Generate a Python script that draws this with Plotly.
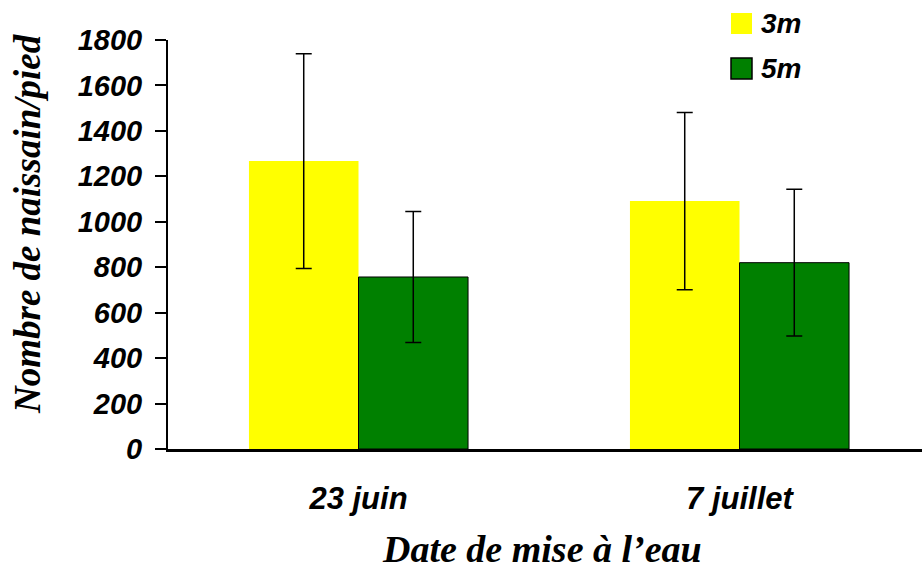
import plotly.graph_objects as go

# Spat settlement per collector by deployment date and depth
dates = ["23 juin", "7 juillet"]
series_names = ["3m", "5m"]
values_3m = [1267, 1091]
errors_3m = [473, 390]
values_5m = [757, 820]
errors_5m = [288, 323]
y_ticks = [0, 200, 400, 600, 800, 1000, 1200, 1400, 1600, 1800]

colors = ["#FFFF00", "#008000"]
sans = "Liberation Sans, Arial, sans-serif"
serif = "Liberation Serif, Times New Roman, serif"

fig = go.Figure()
for name, vals, errs, col, lw in [
    (series_names[0], values_3m, errors_3m, colors[0], 0),
    (series_names[1], values_5m, errors_5m, colors[1], 1),
]:
    fig.add_trace(go.Bar(
        x=dates, y=vals, name=name,
        marker=dict(color=col, line=dict(color="black", width=lw)),
        error_y=dict(type="data", array=errs, visible=True,
                     color="black", thickness=1.5, width=8),
        showlegend=False,
    ))

# Legend drawn as swatches + labels
for i, (name, col) in enumerate(zip(series_names, colors)):
    y0 = 1 + (40 - 13 - 45 * i) / 409
    fig.add_shape(type="rect", xref="paper", yref="paper",
                  x0=(731 - 168) / 754, x1=(752 - 168) / 754,
                  y0=y0 - 21 / 409, y1=y0,
                  fillcolor=col,
                  line=dict(color="black", width=1.5 if i == 1 else 0))
    fig.add_annotation(text=name, xref="paper", yref="paper",
                       x=(759 - 168) / 754, y=y0 - 10.5 / 409,
                       xanchor="left", yanchor="middle", showarrow=False,
                       font=dict(family=sans, size=28, color="black",
                                 weight="bold", style="italic"))

# Axis titles
def title_font(size):
    return dict(family=serif, size=size, color="black",
                weight="bold", style="italic")

fig.add_annotation(text="Nombre de naissain/pied", xref="paper", yref="paper",
                   x=-(168 - 28) / 754, y=(449 - 224) / 409, textangle=-90,
                   xanchor="center", yanchor="middle", showarrow=False,
                   font=title_font(37))
fig.add_annotation(text="Date de mise à l’eau", xref="paper", yref="paper",
                   x=(542 - 168) / 754, y=-(549 - 449) / 409,
                   xanchor="center", yanchor="middle", showarrow=False,
                   font=title_font(38))

fig.update_layout(
    width=922, height=571,
    margin=dict(l=168, r=0, t=40, b=122),
    paper_bgcolor="white", plot_bgcolor="white",
    barmode="group", bargap=0.425, bargroupgap=0,
    xaxis=dict(range=[-0.5, -0.5 + 754 / 381], showline=True,
               linecolor="black", linewidth=3, ticks="", showgrid=False,
               tickfont=dict(family=sans, size=31, color="black",
                             weight="bold", style="italic"),
               ticklabelstandoff=20),
    yaxis=dict(range=[0, 1800], tickvals=y_ticks, showline=True,
               linecolor="black", linewidth=2, ticks="outside",
               ticklen=11, tickwidth=2, tickcolor="black", showgrid=False,
               zeroline=False,
               tickfont=dict(family=sans, size=29, color="black",
                             weight="bold", style="italic"),
               ticklabelstandoff=7),
)

fig.write_html("out.html")
